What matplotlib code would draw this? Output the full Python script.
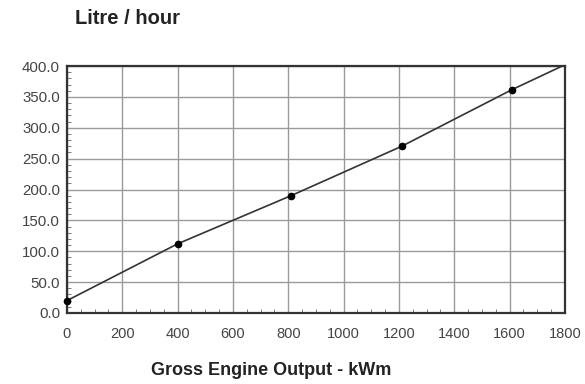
import matplotlib
matplotlib.use("Agg")
import matplotlib.pyplot as plt
from matplotlib.ticker import MultipleLocator, FormatStrFormatter

# engine fuel consumption, measured points
output_kwm = [0, 400, 810, 1210, 1610]
fuel_lph = [20, 112, 190, 270, 362]

# consumption line, carried on to the end of the axis
line_kwm = [0, 400, 810, 1210, 1610, 1800]
line_lph = [20, 112, 190, 270, 362, 402]

x_ticks = list(range(0, 1801, 200))
y_ticks = list(range(0, 401, 50))

plt.rcParams['font.family'] = ['Liberation Sans', 'DejaVu Sans']

fig = plt.figure(figsize=(5.85, 3.84), dpi=100)
ax = fig.add_axes([0.1145, 0.185, 0.851, 0.643])

ax.plot(line_kwm, line_lph, color='#333333', lw=1.2, zorder=3, clip_on=True)
ax.plot(output_kwm, fuel_lph, 'o', color='black', ms=4.5, zorder=4, clip_on=False)

ax.set_xlim(0, 1800)
ax.set_ylim(0, 400)
ax.set_xticks(x_ticks)
ax.set_yticks(y_ticks)
ax.xaxis.set_minor_locator(MultipleLocator(50))
ax.yaxis.set_minor_locator(MultipleLocator(10))
ax.yaxis.set_major_formatter(FormatStrFormatter('%.1f'))

ax.grid(True, which='major', color='#9a9a9a', lw=1.0)
ax.tick_params(which='major', length=0, labelcolor='#444444', pad=6)
ax.tick_params(axis='y', which='major', labelsize=10.8, pad=5)
ax.tick_params(axis='x', which='major', labelsize=10.5, pad=10)
ax.tick_params(which='minor', direction='in', length=3, color='#666666')
ax.tick_params(axis='x', which='minor', top=False)
ax.tick_params(axis='y', which='minor', right=False)

for s in ax.spines.values():
    s.set_linewidth(1.6)
    s.set_color('#333333')

fig.text(0.128, 0.953, 'Litre / hour', fontsize=14.5, fontweight='bold',
         color='#222222', va='center', ha='left')
fig.text(0.463, 0.036, 'Gross Engine Output - kWm', fontsize=13, fontweight='bold',
         color='#222222', va='center', ha='center')

fig.savefig('out.png', dpi=100)
